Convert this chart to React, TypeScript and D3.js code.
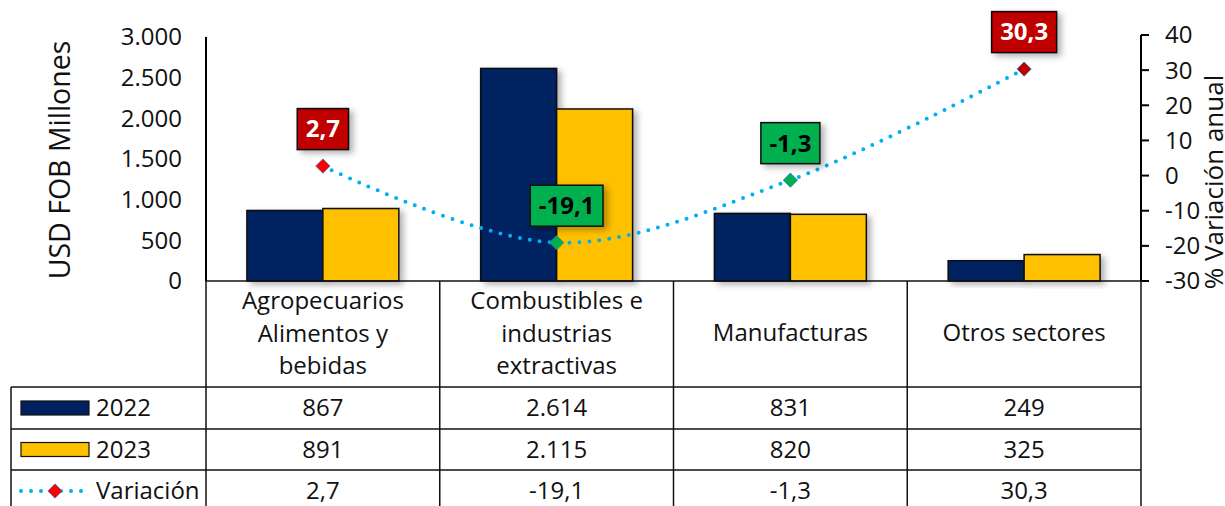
import { useEffect, useRef } from 'react';
import * as d3 from 'd3';

const categories = [
  ['Agropecuarios', 'Alimentos y', 'bebidas'],
  ['Combustibles e', 'industrias', 'extractivas'],
  ['Manufacturas'],
  ['Otros sectores'],
];
const values2022 = [867, 2614, 831, 249];
const values2023 = [891, 2115, 820, 325];
const variacion = [2.7, -19.1, -1.3, 30.3];
const leftTicks = [0, 500, 1000, 1500, 2000, 2500, 3000];
const rightTicks = [-30, -20, -10, 0, 10, 20, 30, 40];

const fmtNum = (v: number) => d3.format(',')(v).replace(/,/g, '.');
const fmtPct = (v: number) => v.toFixed(1).replace('.', ',');

const FONT = '"Open Sans", sans-serif';

const App = () => {
  const svgRef = useRef<SVGSVGElement>(null);

  useEffect(() => {
    const svg = d3.select(svgRef.current);
    svg.selectAll('*').remove();

    const W = 1225, H = 506;
    const left = 206, right = 1141, top = 37, base = 281;
    const tableLeft = 11;
    const rowTops = [387, 429, 470, 512];
    const fs = 24;

    svg.attr('width', W).attr('height', H).style('font-family', FONT);

    const defs = svg.append('defs');
    const f = defs.append('filter').attr('id', 'shadow').attr('x', '-20%').attr('y', '-20%').attr('width', '150%').attr('height', '150%');
    f.append('feDropShadow').attr('dx', 4).attr('dy', 3).attr('stdDeviation', 3).attr('flood-color', '#000').attr('flood-opacity', 0.3);

    const x = d3.scaleBand<number>().domain(d3.range(categories.length)).range([left, right]).paddingInner(0).paddingOuter(0);
    const yL = d3.scaleLinear().domain([0, 3000]).range([base, top]);
    const yR = d3.scaleLinear().domain([-30, 40]).range([base, top - 2]);

    const groupW = x.bandwidth() * 0.65;
    const barW = groupW / 2;

    // bars
    const bars = svg.append('g');
    [values2022, values2023].forEach((vals, s) => {
      bars.selectAll(`.bar-${s}`)
        .data(vals)
        .enter()
        .append('rect')
        .attr('x', (_, i) => x(i)! + x.bandwidth() / 2 - barW + s * barW)
        .attr('width', barW)
        .attr('y', d => yL(d))
        .attr('height', d => base - yL(d))
        .attr('fill', s === 0 ? '#002060' : '#FFC000')
        .attr('stroke', '#111')
        .attr('stroke-width', 1.5)
        .attr('filter', 'url(#shadow)');
    });

    // left axis
    svg.append('line').attr('x1', left).attr('x2', left).attr('y1', top).attr('y2', base)
      .attr('stroke', '#000').attr('stroke-width', 2);
    svg.append('g').selectAll('text').data(leftTicks).enter().append('text')
      .attr('x', 182).attr('y', d => yL(d)).attr('dy', '0.35em')
      .attr('text-anchor', 'end').attr('font-size', fs).attr('fill', '#111')
      .text(d => fmtNum(d));
    svg.append('text')
      .attr('transform', `translate(70,160) rotate(-90)`)
      .attr('text-anchor', 'middle').attr('font-size', 28.5).attr('fill', '#111')
      .text('USD FOB Millones');

    // right axis
    svg.append('line').attr('x1', right).attr('x2', right).attr('y1', yR(40)).attr('y2', base)
      .attr('stroke', '#000').attr('stroke-width', 2);
    svg.append('g').selectAll('line').data(rightTicks).enter().append('line')
      .attr('x1', right).attr('x2', right + 8).attr('y1', d => yR(d)).attr('y2', d => yR(d))
      .attr('stroke', '#000').attr('stroke-width', 2);
    svg.append('g').selectAll('text').data(rightTicks).enter().append('text')
      .attr('x', 1165).attr('y', d => yR(d)).attr('dy', '0.35em')
      .attr('font-size', fs).attr('fill', '#111')
      .text(d => String(d));
    svg.append('text')
      .attr('transform', `translate(1223,182) rotate(-90)`)
      .attr('text-anchor', 'middle').attr('font-size', 26).attr('fill', '#111')
      .text('% Variación anual');

    // variation line
    const pts: [number, number][] = variacion.map((v, i) => [x(i)! + x.bandwidth() / 2, yR(v)]);
    const line = d3.line().curve(d3.curveCatmullRom.alpha(0.5));
    svg.append('path').attr('d', line(pts)).attr('fill', 'none')
      .attr('stroke', '#00B0F0').attr('stroke-width', 4)
      .attr('stroke-dasharray', '0,10').attr('stroke-linecap', 'round');

    const markerColor = (v: number, i: number) => v < 0 ? '#00B050' : (i === variacion.length - 1 ? '#C00000' : '#FF0000');
    const diamond = d3.symbol().type(d3.symbolDiamond2).size(130);
    svg.append('g').selectAll('path').data(variacion).enter().append('path')
      .attr('d', diamond)
      .attr('transform', (_, i) => `translate(${pts[i][0]},${pts[i][1]})`)
      .attr('fill', (d, i) => markerColor(d, i))
      .attr('stroke', '#2E75B6').attr('stroke-width', 0.8);

    // data labels
    const labels = svg.append('g');
    variacion.forEach((v, i) => {
      const txt = fmtPct(v);
      const g = labels.append('g').attr('transform', `translate(${pts[i][0] + (v < -10 ? 10 : 0)},${pts[i][1] - 37})`);
      const t = g.append('text').attr('text-anchor', 'middle').attr('dy', '0.35em')
        .attr('font-size', fs).attr('font-weight', 700)
        .attr('fill', v < 0 ? '#000' : '#fff').text(txt);
      const w = (t.node() as SVGTextElement).getComputedTextLength() + 17;
      g.insert('rect', 'text').attr('x', -w / 2).attr('y', -20.5).attr('width', w).attr('height', 41)
        .attr('fill', v < 0 ? '#00B050' : '#C00000').attr('stroke', '#111').attr('stroke-width', 1.5)
        .attr('filter', 'url(#shadow)');
    });

    // table
    const tbl = svg.append('g');
    const stroke = (sel: any) => sel.attr('stroke', '#111').attr('stroke-width', 1.5);
    stroke(tbl.append('line').attr('x1', left).attr('x2', right).attr('y1', base).attr('y2', base));
    rowTops.forEach(y => stroke(tbl.append('line').attr('x1', tableLeft).attr('x2', right).attr('y1', y).attr('y2', y)));
    const cols = d3.range(categories.length + 1).map(i => i < categories.length ? x(i)! : right);
    cols.forEach(cx => stroke(tbl.append('line').attr('x1', cx).attr('x2', cx).attr('y1', base).attr('y2', H)));
    stroke(tbl.append('line').attr('x1', tableLeft).attr('x2', tableLeft).attr('y1', rowTops[0]).attr('y2', H));

    // category labels
    categories.forEach((lines, i) => {
      const cx = x(i)! + x.bandwidth() / 2;
      const lh = 32.5;
      const y0 = lines.length === 1 ? 333 : 301;
      lines.forEach((l, k) => {
        tbl.append('text').attr('x', cx).attr('y', y0 + k * lh).attr('dy', '0.35em')
          .attr('text-anchor', 'middle').attr('font-size', fs).attr('fill', '#111').text(l);
      });
    });

    // data rows
    const rows = [values2022.map(fmtNum), values2023.map(fmtNum), variacion.map(fmtPct)];
    rows.forEach((r, ri) => {
      const cy = (rowTops[ri] + rowTops[ri + 1]) / 2;
      r.forEach((val, i) => {
        tbl.append('text').attr('x', x(i)! + x.bandwidth() / 2).attr('y', cy).attr('dy', '0.35em')
          .attr('text-anchor', 'middle').attr('font-size', fs).attr('fill', '#111').text(val);
      });
    });

    // legend
    const legNames = ['2022', '2023', 'Variación'];
    legNames.forEach((name, ri) => {
      const cy = (rowTops[ri] + rowTops[ri + 1]) / 2;
      if (ri < 2) {
        tbl.append('rect').attr('x', 21).attr('y', cy - 7).attr('width', 68).attr('height', 14)
          .attr('fill', ri === 0 ? '#002060' : '#FFC000').attr('stroke', '#111').attr('stroke-width', 1.2);
      } else {
        tbl.append('line').attr('x1', 21).attr('x2', 89).attr('y1', cy).attr('y2', cy)
          .attr('stroke', '#00B0F0').attr('stroke-width', 4)
          .attr('stroke-dasharray', '0,10').attr('stroke-linecap', 'round');
        tbl.append('path').attr('d', diamond).attr('transform', `translate(55,${cy})`)
          .attr('fill', '#FF0000').attr('stroke', '#2E75B6').attr('stroke-width', 0.8);
      }
      tbl.append('text').attr('x', 96).attr('y', cy).attr('dy', '0.35em')
        .attr('font-size', fs).attr('fill', '#111').text(name);
    });
  }, []);

  return (<svg ref={svgRef} style={{ position: 'absolute', left: 0, top: 0 }}></svg>);
};

export default App;
